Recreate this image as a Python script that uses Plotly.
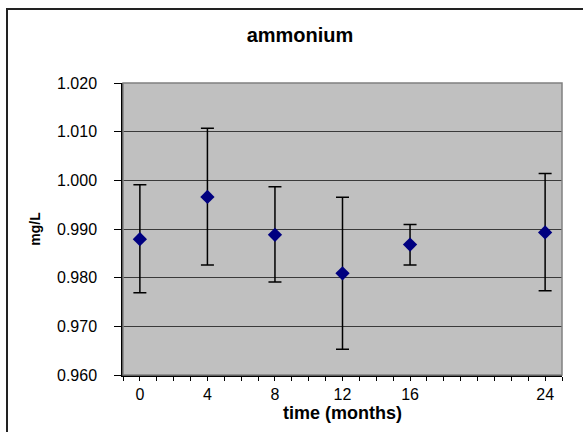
import plotly.graph_objects as go

months = [0, 4, 8, 12, 16, 24]
mean_vals = [0.9879, 0.9966, 0.9888, 0.9809, 0.9868, 0.9893]
upper_vals = [0.9991, 1.0107, 0.9987, 0.9965, 0.9909, 1.0014]
lower_vals = [0.9769, 0.9826, 0.9791, 0.9653, 0.9826, 0.9773]

err_plus = [u - m for u, m in zip(upper_vals, mean_vals)]
err_minus = [m - l for m, l in zip(mean_vals, lower_vals)]

x_ticks = list(range(-1, 26))
x_ticktext = [str(v) if v in months else "" for v in x_ticks]

FONT = "Liberation Sans, Arial, sans-serif"

fig = go.Figure()
fig.add_trace(go.Scatter(
    x=months, y=mean_vals, mode="markers",
    marker=dict(symbol="diamond", size=11, color="#000080"),
    error_y=dict(type="data", symmetric=False, array=err_plus, arrayminus=err_minus,
                 color="black", thickness=1.5, width=6.5),
    showlegend=False,
))

fig.update_layout(
    width=583, height=432,
    margin=dict(l=123, r=21, t=83, b=49),
    paper_bgcolor="white",
    plot_bgcolor="#c0c0c0",
    title=dict(text="<b>ammonium</b>", x=300 / 583, xanchor="center",
               y=1 - 35 / 432, yanchor="middle", yref="container",
               font=dict(family=FONT, size=20, color="black")),
    font=dict(family=FONT, color="black"),
    xaxis=dict(
        range=[-1, 25], tickmode="array", tickvals=x_ticks, ticktext=x_ticktext,
        ticks="outside", ticklen=4, tickcolor="black", tickwidth=1,
        showline=True, linecolor="black", linewidth=1.5,
        showgrid=False, zeroline=False,
        tickfont=dict(family=FONT, size=16, color="black"),
        title=dict(text="<b>time (months)</b>", font=dict(family=FONT, size=18, color="black"),
                   standoff=4),
    ),
    yaxis=dict(
        range=[0.960, 1.020], dtick=0.01, tick0=0.96, tickformat=".3f",
        ticks="outside", ticklen=7, tickcolor="black", tickwidth=1,
        showline=True, linecolor="black", linewidth=1.5,
        showgrid=True, gridcolor="#3a3a3a", gridwidth=1, zeroline=False,
        tickfont=dict(family=FONT, size=16, color="black"),
        ticklabelstandoff=14,
        title=dict(text="<b>mg/L</b>", font=dict(family=FONT, size=14, color="black"),
                   standoff=13),
    ),
    shapes=[
        dict(type="rect", xref="paper", yref="paper", x0=0, x1=1, y0=0, y1=1,
             line=dict(color="#808080", width=1.5), layer="above"),
        dict(type="rect", xref="paper", yref="paper",
             x0=(7 - 123) / 439, x1=1.2, y0=-0.4, y1=(383 - 7) / 300,
             line=dict(color="#222222", width=2)),
    ],
)

fig.write_html("out.html")
